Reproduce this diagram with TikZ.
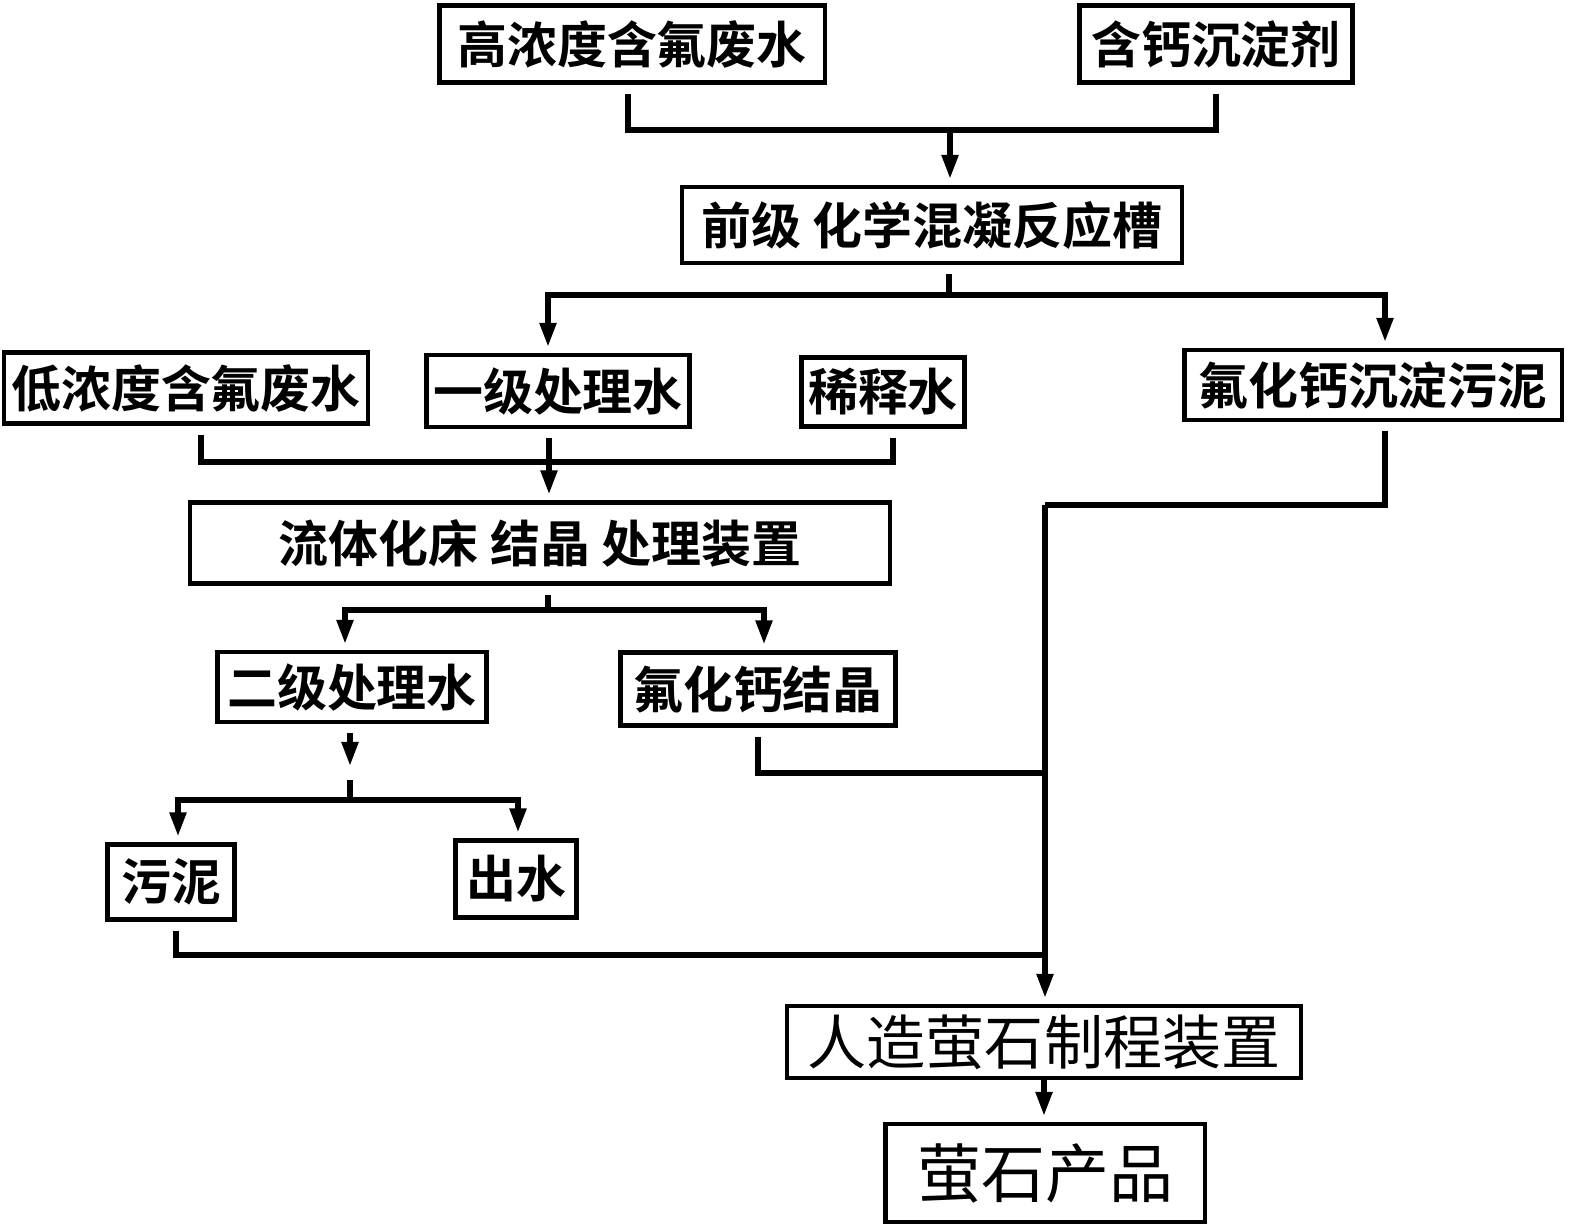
\documentclass[tikz,border=0pt]{standalone}
\usepackage{fontspec}
\newfontfamily\cjk{Noto Sans CJK SC}[BoldFont={Noto Sans CJK SC Bold}]
\usetikzlibrary{arrows.meta}

\begin{document}
\begin{tikzpicture}[x=0.01cm,y=-0.01cm]
        % Define styles
        \tikzset{
            box/.style={rectangle, draw, line width=1.2pt, inner sep=0pt, font=\cjk\bfseries\fontsize{14.2}{16}\selectfont},
            bigbox/.style={box, font=\cjk\fontsize{16.8}{19}\selectfont},
            line/.style={line width=1.5pt},
            arrow/.style={line, -{Triangle[length=2.4mm, width=1.6mm]}, shorten >=0.6mm},
            gap/.style={shorten <=0.9mm}
        }
        \useasboundingbox (0,0) rectangle (1570,1227);

        % Nodes
        \node[box, minimum width=3.85cm, minimum height=0.77cm] (high) at (632,44) {高浓度含氟废水};
        \node[box, minimum width=2.73cm, minimum height=0.77cm] (agent) at (1216,44) {含钙沉淀剂};
        \node[box, minimum width=4.99cm, minimum height=0.76cm] (tank) at (932,225) {前级 化学混凝反应槽};
        \node[box, minimum width=3.64cm, minimum height=0.71cm] (low) at (186,388) {低浓度含氟废水};
        \node[box, minimum width=2.63cm, minimum height=0.72cm] (first) at (558,391) {一级处理水};
        \node[box, minimum width=1.63cm, minimum height=0.69cm] (dilute) at (883,392) {稀释水};
        \node[box, minimum width=3.77cm, minimum height=0.70cm] (casludge) at (1373,385) {氟化钙沉淀污泥};
        \node[box, minimum width=7.00cm, minimum height=0.81cm] (fbr) at (540,543) {流体化床 结晶 处理装置};
        \node[box, minimum width=2.69cm, minimum height=0.70cm] (second) at (352,687) {二级处理水};
        \node[box, minimum width=2.75cm, minimum height=0.73cm] (crystal) at (758,689) {氟化钙结晶};
        \node[box, minimum width=1.27cm, minimum height=0.75cm] (sludge) at (171,882) {污泥};
        \node[box, minimum width=1.21cm, minimum height=0.77cm] (effluent) at (516,879) {出水};
        \node[bigbox, minimum width=5.14cm, minimum height=0.72cm] (plant) at (1044,1042) {人造萤石制程装置};
        \node[bigbox, minimum width=3.19cm, minimum height=0.98cm, font=\cjk\fontsize{18.2}{21}\selectfont] (product) at (1045,1173) {萤石产品};

        % Junctions
        \coordinate (j1) at (950,130);
        \coordinate (j2) at (949,295);
        \coordinate (j3) at (549,462);
        \coordinate (j4) at (548,610);
        \coordinate (j5) at (350,800);
        \coordinate (j6) at (1045,505);
        \coordinate (j7) at (1045,773);
        \coordinate (j8) at (1045,955);

        % Arrows
        \draw[line, gap] ([xshift=-0.4mm]high.south) |- (j1);
        \draw[line, gap] (agent.south) |- (j1);
        \draw[arrow] (j1) -- (j1 |- tank.north);
        \draw[line, gap] (j2 |- tank.south) -- (j2);
        \draw[arrow] (j2) -| ([xshift=-1mm]first.north);
        \draw[arrow] (j2) -| ([xshift=1.2mm]casludge.north);
        \draw[line, gap] ([xshift=1.5mm]low.south) |- (j3);
        \draw[line, gap] ([xshift=1mm]dilute.south) |- (j3);
        \draw[arrow, gap] (j3 |- first.south) -- (j3 |- fbr.north);
        \draw[line, gap] (j4 |- fbr.south) -- (j4);
        \draw[arrow] (j4) -| ([xshift=-0.7mm]second.north);
        \draw[arrow] (j4) -| ([xshift=0.6mm]crystal.north);
        \draw[arrow, gap] (j5 |- second.south) -- ([yshift=2.8mm]j5);
        \draw[arrow] ([yshift=2mm]j5) -- (j5) -| ([xshift=0.7mm]sludge.north);
        \draw[arrow] (j5) -| ([xshift=0.2mm]effluent.north);
        \draw[line, gap] ([xshift=1.2mm]casludge.south) |- (j6);
        \draw[line, gap] (crystal.south) |- (j7);
        \draw[line, gap] ([xshift=0.5mm]sludge.south) |- (j8);
        \draw[arrow] (j6) -- (j6 |- plant.north);
        \draw[arrow] (plant.south) -- (plant.south |- product.north);
    \end{tikzpicture}
\end{document}
